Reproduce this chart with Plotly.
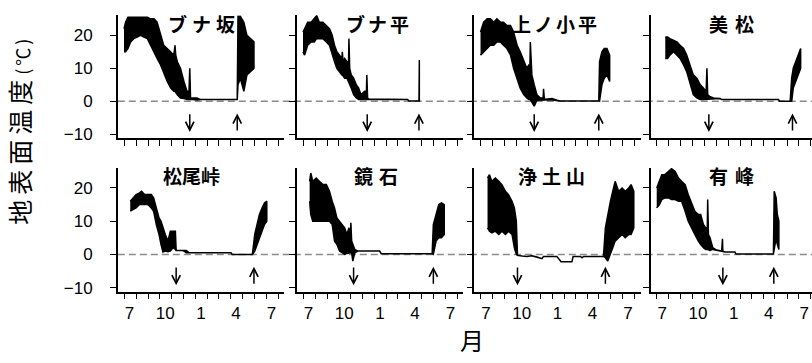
import plotly.graph_objects as go

# ---------------- data (days since 1 July; temperature in deg C) ----------------
month_starts = [0, 31, 62, 92, 123, 153, 184, 215, 243, 274, 304, 335, 365, 396]
label_days = [14, 106, 198, 288, 379]
month_labels = ["7", "10", "1", "4", "7"]
y_ticks = [-10, 0, 10, 20]

stations = ["ブナ坂", "ブナ平", "上ノ小平", "美松", "松尾峠", "鏡石", "浄土山", "有峰"]

d_bunazaka = [0, 4, 10, 17, 25, 34, 42, 51, 60, 68, 77, 85, 94, 102, 111, 120, 128, 131, 133, 137, 145, 154, 162, 167, 169, 171, 175, 188, 196, 291, 293, 299, 308, 316, 325, 334]
lo_bunazaka = [15, 15, 16, 18, 19, 19.5, 20, 19.5, 19, 17, 15, 13, 11, 9, 6, 4, 3, 3, 3, 2, 1, 0.8, 0.5, 0.5, 0.5, 0.5, 0.5, 0.4, 0.5, 0.5, 5, 7, 3, 8, 9, 10]
hi_bunazaka = [22, 24, 25.5, 25.5, 25.5, 25.5, 25.5, 25.5, 25.5, 25, 25, 24, 20, 17, 16, 15, 14, 17, 14, 12, 10, 6, 3, 3, 10, 1, 1, 1.0, 0.5, 0.5, 25.8, 25.8, 24, 20, 19, 18]

d_bunadaira = [0, 4, 12, 21, 29, 35, 42, 51, 60, 68, 75, 81, 87, 94, 100, 101, 103, 107, 113, 117, 118, 120, 124, 130, 137, 143, 149, 158, 163, 164, 166, 169, 269, 272, 298, 299]
lo_bunadaira = [15, 14, 17, 18, 18, 19, 19, 19, 18, 17, 14, 12, 10, 9, 8, 8, 8, 7, 7, 6, 6, 5, 4, 2, 1, 0.5, 0.5, 0.5, 0.5, 0.5, 0.5, 0.5, 0.5, 0.1, 0.1, 0.1]
hi_bunadaira = [21, 22, 24, 24, 25, 26, 24, 24, 23, 22, 20, 17, 15, 14, 13, 15, 12, 13, 12, 12, 19, 10, 8, 7, 5, 4, 2, 3, 3, 8, 1, 0.7, 0.5, 0.1, 0.1, 12.5]

d_kaminokodaira = [0, 8, 17, 25, 34, 42, 51, 59, 68, 77, 85, 94, 102, 111, 119, 124, 127, 128, 130, 132, 138, 145, 154, 161, 162, 164, 167, 184, 197, 205, 304, 306, 312, 318, 325, 332]
lo_kaminokodaira = [14, 15, 16, 17, 17, 18, 18, 17, 16, 14, 10, 7, 4, 2, 1, 0.5, 0.5, 0.5, 0.5, 0, -1.5, 0.3, 0.3, 0.4, 0.4, 0.4, 0.4, 0.4, 0.3, 0.1, 0.1, 0, 5, 7, 8, 6]
hi_kaminokodaira = [21, 24, 25, 25, 24, 25, 24, 24, 23, 23, 21, 17, 15, 12, 10, 11, 11, 18, 9, 8, 5, 2, 1, 1, 3.8, 0.8, 0.6, 0.8, 0.3, 0.1, 0.1, 12, 15, 16, 16, 14]

d_bimatsu = [22, 28, 34, 43, 52, 60, 69, 77, 86, 94, 103, 112, 120, 126, 127, 129, 131, 136, 146, 163, 167, 313, 316, 343, 347, 351, 357, 364, 370]
lo_bimatsu = [13, 13, 14, 15, 14, 13, 11, 9, 5, 2, 1, 0.5, 0.5, 0.5, 0.5, 0.5, 0.5, 0.5, 0.6, 0.8, 0.5, 0.5, 0.0, 0.0, 0, 4, 6, 8, 10]
hi_bimatsu = [19.5, 19.5, 19, 18.5, 18, 17, 16, 14, 11, 8, 7, 5, 4, 3, 3, 10, 2, 1.5, 1.0, 0.8, 0.5, 0.5, 0.0, 0.0, 7, 10, 12, 14, 16]

d_matsuotoge = [16, 23, 31, 40, 45, 53, 61, 70, 76, 83, 90, 95, 100, 106, 113, 119, 126, 132, 134, 151, 160, 168, 275, 278, 330, 336, 342, 348, 355, 361, 367]
lo_matsuotoge = [13, 13.5, 14, 15, 15, 15, 15, 14, 13, 9, 6, 3, 0.7, 1, 0.8, 1, 2, 1.5, 1.2, 1.2, 0.5, 0.5, 0.5, 0, 0, 1, 3, 5, 7, 9, 10]
hi_matsuotoge = [16, 17, 18, 18.5, 19, 18, 18, 18, 17, 14, 11, 10, 8, 6, 4, 7, 7, 7, 1.2, 1.2, 1.2, 0.5, 0.5, 0, 0, 6, 9, 12, 14, 15.5, 16]

d_kagamiishi = [17, 20, 25, 34, 42, 51, 60, 68, 75, 81, 87, 94, 101, 107, 113, 118, 122, 123, 125, 128, 133, 141, 197, 201, 332, 335, 342, 349, 356, 363]
lo_kagamiishi = [16, 12, 10, 10, 10, 10, 10, 10, 9, 4, 3, 1, 0.5, 0, 0.3, 0.5, 0.5, 0.5, 0.5, -2, 0.5, 1.0, 1.0, 0.2, 0.2, 0, 4, 5, 5, 6]
hi_kagamiishi = [22, 24.5, 22, 23, 22, 21, 21, 19, 16, 14, 11, 10, 9, 8, 6, 8, 6, 9.5, 4, 3, 1.5, 1.0, 1.0, 0.2, 0.2, 9, 12, 15, 15.5, 15]

d_jodosan = [18, 23, 29, 38, 47, 55, 64, 72, 81, 87, 92, 95, 107, 119, 132, 145, 158, 162, 196, 201, 207, 235, 238, 257, 261, 265, 316, 321, 327, 334, 340, 346, 355, 364, 372, 381, 387, 394]
lo_jodosan = [8, 7, 6.5, 7, 6, 7, 6, 7, 6, 2, 0, -0.3, -0.5, -0.6, -0.4, -0.8, -1.3, -0.6, -0.6, -1.3, -2.2, -2.2, -0.6, -0.6, -1.0, -0.6, -0.6, -1, -2, 0, 2, 4, 5, 6, 5, 6, 6, 8]
hi_jodosan = [23, 24, 22, 23, 22, 21, 19, 18, 16, 14, 10, -0.3, -0.5, -0.6, -0.4, -0.8, -1.3, -0.6, -0.6, -1.3, -2.2, -2.2, -0.6, -0.6, -1.0, -0.6, -0.6, 8, 12, 16, 19, 22, 19, 20, 19, 20, 21, 19]

d_arimine = [0, 7, 13, 21, 30, 38, 47, 56, 64, 73, 81, 90, 98, 107, 113, 120, 126, 130, 131, 133, 137, 144, 154, 167, 169, 170, 172, 176, 201, 204, 300, 302, 307, 310, 314]
lo_arimine = [14, 15, 16.5, 17, 17, 16.5, 16.5, 16, 16, 13, 10, 8, 6, 4, 3, 2, 1.5, 1.5, 1.5, 1.5, 1.2, 1.5, 1.3, 1.0, 0.8, 0.8, 0.8, 0.7, 0.7, 0.1, 0.1, 1, 5, 3, 1.5]
hi_arimine = [20, 22, 24, 24, 25, 25.8, 25, 23, 22, 21, 18, 15, 13, 12, 12, 9, 8, 8, 16.5, 6, 5, 2.0, 1.3, 1.0, 4.7, 1.0, 0.8, 0.7, 0.7, 0.1, 0.1, 19, 17, 12, 10]

series = [
    (d_bunazaka, lo_bunazaka, hi_bunazaka),
    (d_bunadaira, lo_bunadaira, hi_bunadaira),
    (d_kaminokodaira, lo_kaminokodaira, hi_kaminokodaira),
    (d_bimatsu, lo_bimatsu, hi_bimatsu),
    (d_matsuotoge, lo_matsuotoge, hi_matsuotoge),
    (d_kagamiishi, lo_kagamiishi, hi_kagamiishi),
    (d_jodosan, lo_jodosan, hi_jodosan),
    (d_arimine, lo_arimine, hi_arimine),
]

snow_start = [169, 165, 138, 134, 134, 130, 95, 170]   # down arrows
snow_end = [291, 298, 304, 349, 334, 335, 321, 301]    # up arrows

# ---------------- layout geometry ----------------
FW, FH = 812, 363
DY = 3.5  # vertical correction
col_left = [117.8, 296.8, 474.3, 650.5]
panel_w = 166.5
px_per_day = 0.389
rows_px = [(12 + DY, 137 + DY), (167 + DY, 293 + DY)]
y_range = [-11.2, 26.1]
title_pos = [(204, 20), (379, 20), (556, 20), (734.5, 20),
             (191, 175), (378.5, 175), (554, 175), (734.5, 175)]
title_spacing = [5, 3, 3, 7, 0, 6, 5, 7]

NUM = "Liberation Sans, Arial, sans-serif"
JP = "Noto Sans CJK JP, sans-serif"

fig = go.Figure()
layout = dict(width=FW, height=FH, autosize=False,
              margin=dict(l=0, r=0, t=0, b=0),
              paper_bgcolor="white", plot_bgcolor="white",
              showlegend=False, font=dict(family=NUM, color="black"))
annotations = []
shapes = []

for i in range(8):
    r, c = divmod(i, 4)
    k = "" if i == 0 else str(i + 1)
    L = col_left[c]
    R = min(L + panel_w, FW)
    x_hi = -16 + (R - L) / px_per_day
    top, bot = rows_px[r]
    d, lo, hi = series[i]

    fig.add_trace(go.Scatter(
        x=list(d) + list(d)[::-1], y=list(hi) + list(lo)[::-1],
        mode="lines", fill="toself", fillcolor="black",
        line=dict(color="black", width=1.5),
        xaxis="x" + k, yaxis="y" + k, hoverinfo="skip"))

    layout["xaxis" + k] = dict(
        domain=[L / FW, R / FW], range=[-16, x_hi], anchor="y" + k,
        showline=True, linecolor="black", linewidth=1.6,
        showgrid=False, zeroline=False,
        tickmode="array", tickvals=label_days, ticktext=month_labels,
        ticks="", showticklabels=(r == 1),
        tickfont=dict(size=17, family=NUM, color="black"),
        ticklabelstandoff=5,
        minor=dict(tickmode="array", tickvals=month_starts, ticks="outside",
                   ticklen=6, tickwidth=1.4, tickcolor="black", showgrid=False),
    )
    layout["yaxis" + k] = dict(
        domain=[(FH - bot) / FH, (FH - top) / FH], range=y_range, anchor="x" + k,
        showline=True, linecolor="black", linewidth=1.6,
        showgrid=False, zeroline=False,
        tickmode="array", tickvals=y_ticks, ticks="outside",
        ticklen=6, tickwidth=1.4, tickcolor="black",
        showticklabels=(c == 0),
        tickfont=dict(size=17, family=NUM, color="black"),
        ticklabelstandoff=14,
    )

    # arrows: snow cover onset (down) and melt (up)
    annotations.append(dict(
        xref="x" + k, yref="y" + k, axref="x" + k, ayref="y" + k,
        x=snow_start[i], y=-9.3, ax=snow_start[i], ay=-3.5, text="",
        showarrow=True, arrowhead=5, arrowsize=1.1, arrowwidth=1.5, arrowcolor="black"))
    annotations.append(dict(
        xref="x" + k, yref="y" + k, axref="x" + k, ayref="y" + k,
        x=snow_end[i], y=-3.7, ax=snow_end[i], ay=-9.3, text="",
        showarrow=True, arrowhead=5, arrowsize=1.1, arrowwidth=1.5, arrowcolor="black"))

    tx, ty = title_pos[i]
    annotations.append(dict(
        xref="paper", yref="paper", x=tx / FW, y=(FH - ty - DY) / FH,
        xanchor="center", yanchor="middle", showarrow=False,
        text=f"<b><span style='letter-spacing:{title_spacing[i]}px'>{stations[i]}</span></b>",
        font=dict(family=JP, size=19, color="black")))

# dashed zero lines per row
for r, k in enumerate(["", "5"]):
    shapes.append(dict(type="line", xref="paper", yref="y" + k,
                       x0=col_left[0] / FW, x1=1, y0=0, y1=0, layer="below",
                       line=dict(color="#8a8a8a", width=1.5, dash="7px,4px")))

# axis titles
annotations.append(dict(
    xref="paper", yref="paper", x=19 / FW, y=(FH - 133) / FH,
    xanchor="center", yanchor="middle", showarrow=False, textangle=-90,
    text="<span style='letter-spacing:5px'>地表面温度</span><span style='font-size:18px;letter-spacing:3px'>(℃)</span>",
    font=dict(family=JP, size=25, color="black")))
annotations.append(dict(
    xref="paper", yref="paper", x=472 / FW, y=(FH - 342 - DY) / FH,
    xanchor="center", yanchor="middle", showarrow=False,
    text="月", font=dict(family=JP, size=24, color="black")))

layout["annotations"] = annotations
layout["shapes"] = shapes
fig.update_layout(**layout)

fig.write_html("out.html", include_plotlyjs=True, config={"displayModeBar": False},
               post_script="document.body.style.margin='0';document.body.style.overflow='hidden';")
